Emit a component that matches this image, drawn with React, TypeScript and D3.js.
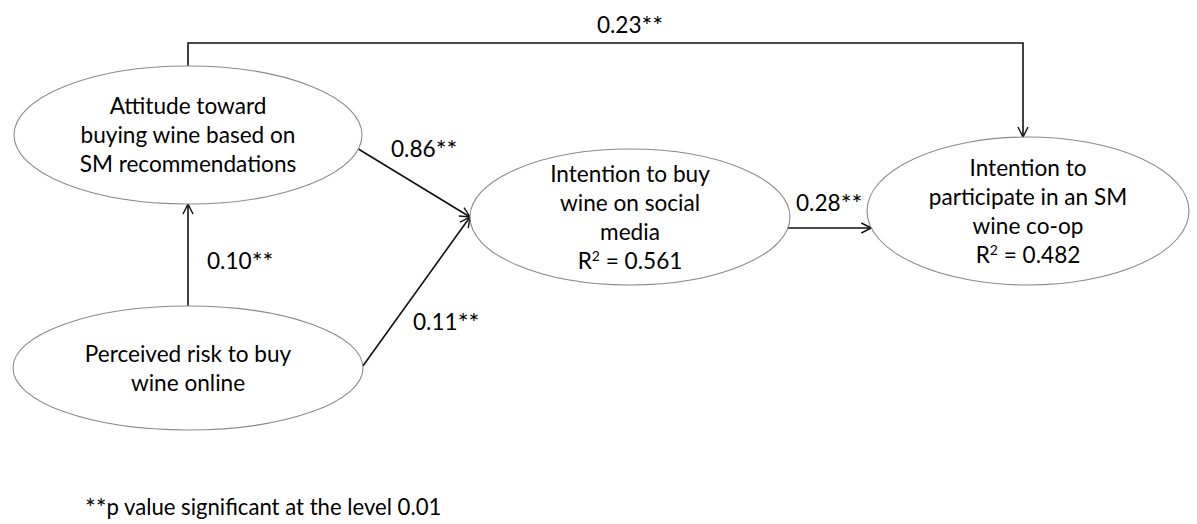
import * as d3 from 'd3';

// ── Data ──────────────────────────────────────────────────────────────────
const constructIds = ['attitude', 'risk', 'buy', 'coop'];
const constructLabels = [
  ['Attitude toward', 'buying wine based on', 'SM recommendations'],
  ['Perceived risk to buy', 'wine online'],
  ['Intention to buy', 'wine on social', 'media'],
  ['Intention to', 'participate in an SM', 'wine co-op']
];
const rSquared = [null, null, 0.561, 0.482];

const pathFrom = ['risk', 'attitude', 'risk', 'buy', 'attitude'];
const pathTo = ['attitude', 'buy', 'buy', 'coop', 'coop'];
const pathCoef = [0.1, 0.86, 0.11, 0.28, 0.23];
const pathStars = ['**', '**', '**', '**', '**'];

const footnoteStars = '**';
const footnote = 'p value significant at the level 0.01';

// ── Layout (positions only) ────────────────────────────────────────────────
const W = 1197;
const H = 524;
const nodeLayout = {
  attitude: { cx: 188, cy: 135, rx: 174, ry: 69 },
  risk: { cx: 188, cy: 368, rx: 175, ry: 62 },
  buy: { cx: 630, cy: 217, rx: 160, ry: 68 },
  coop: { cx: 1028, cy: 211, rx: 161, ry: 74 }
};
// how each path is routed + where its coefficient sits
const pathRoute = [
  { kind: 'vertical', lx: 207, ly: 269, anchor: 'start' },
  { kind: 'diag', lx: 391, ly: 157, anchor: 'start' },
  { kind: 'diag', lx: 413, ly: 330, anchor: 'start' },
  { kind: 'horizontal', y: 228, lx: 796, ly: 211, anchor: 'start' },
  { kind: 'elbow', topY: 43, xEnd: 1023, lx: 630, ly: 33, anchor: 'middle' }
];

const FONT = 'Lato, "Open Sans", sans-serif';
const FS = 22.6;
const LINE_H = 29;

// x on ellipse for a given y (side -1 left, +1 right)
const xAtY = (n, y, side) => n.cx + side * n.rx * Math.sqrt(Math.max(0, 1 - ((y - n.cy) / n.ry) ** 2));
const yAtX = (n, x, side) => n.cy + side * n.ry * Math.sqrt(Math.max(0, 1 - ((x - n.cx) / n.rx) ** 2));

const fmt = d3.format('.2f');
const line = d3.line();

function routePoints(i) {
  const a = nodeLayout[pathFrom[i]];
  const b = nodeLayout[pathTo[i]];
  const r = pathRoute[i];
  if (r.kind === 'vertical') {
    return [
      [a.cx, a.cy - a.ry],
      [b.cx, b.cy + b.ry]
    ];
  }
  if (r.kind === 'diag') {
    const startY = a.cy > b.cy ? a.cy - 2 : a.cy + 14;
    return [
      [xAtY(a, startY, 1), startY],
      [b.cx - b.rx, b.cy]
    ];
  }
  if (r.kind === 'horizontal') {
    return [
      [xAtY(a, r.y, 1), r.y],
      [xAtY(b, r.y, -1), r.y]
    ];
  }
  // elbow over the top
  return [
    [a.cx, a.cy - a.ry],
    [a.cx, r.topY],
    [r.xEnd, r.topY],
    [r.xEnd, yAtX(b, r.xEnd, -1)]
  ];
}

const Stars = ({ s }) => (
  <tspan fontSize={FS * 1.12} dy={2}>
    {s}
  </tspan>
);

export default function App() {
  return (
    <svg width={W} height={H} style={{ position: 'absolute', left: 0, top: 0, background: '#fff' }} fontFamily={FONT}>
      <defs>
        <marker id="arrowHead" viewBox="0 0 12 12" refX="11" refY="6" markerWidth="12" markerHeight="12" markerUnits="userSpaceOnUse" orient="auto">
          <path d="M1,1 L11,6 L1,11" fill="none" stroke="#111" strokeWidth="1.4" />
        </marker>
      </defs>

      {/* paths */}
      {pathCoef.map((c, i) => (
        <path key={`p${i}`} d={line(routePoints(i))} fill="none" stroke="#111" strokeWidth={1.6} markerEnd="url(#arrowHead)" />
      ))}

      {/* constructs */}
      {constructIds.map((id, i) => {
        const n = nodeLayout[id];
        const lines = constructLabels[i];
        const r2 = rSquared[i];
        const total = lines.length + (r2 != null ? 1 : 0);
        return (
          <g key={id}>
            <ellipse cx={n.cx} cy={n.cy} rx={n.rx} ry={n.ry} fill="#fff" stroke="#8a8a8a" strokeWidth={1.1} />
            <text textAnchor="middle" fontSize={FS} fill="#000">
              {lines.map((t, j) => (
                <tspan key={j} x={n.cx} y={n.cy + 8 + (j - (total - 1) / 2) * LINE_H}>
                  {t}
                </tspan>
              ))}
              {r2 != null && (
                <tspan x={n.cx} y={n.cy + 8 + ((total - 1) / 2) * LINE_H}>
                  R<tspan fontSize={FS * 0.62} dy={-8}>2</tspan>
                  <tspan dy={8}>{` = ${d3.format('.3f')(r2)}`}</tspan>
                </tspan>
              )}
            </text>
          </g>
        );
      })}

      {/* coefficients */}
      {pathCoef.map((c, i) => (
        <text key={`l${i}`} x={pathRoute[i].lx} y={pathRoute[i].ly} textAnchor={pathRoute[i].anchor} fontSize={FS} fill="#000">
          {fmt(c)}
          <Stars s={pathStars[i]} />
        </text>
      ))}

      <text x={85} y={515} fontSize={FS * 0.98} fill="#000">
        <Stars s={footnoteStars} />
        <tspan dy={-2}>{footnote}</tspan>
      </text>
    </svg>
  );
}
